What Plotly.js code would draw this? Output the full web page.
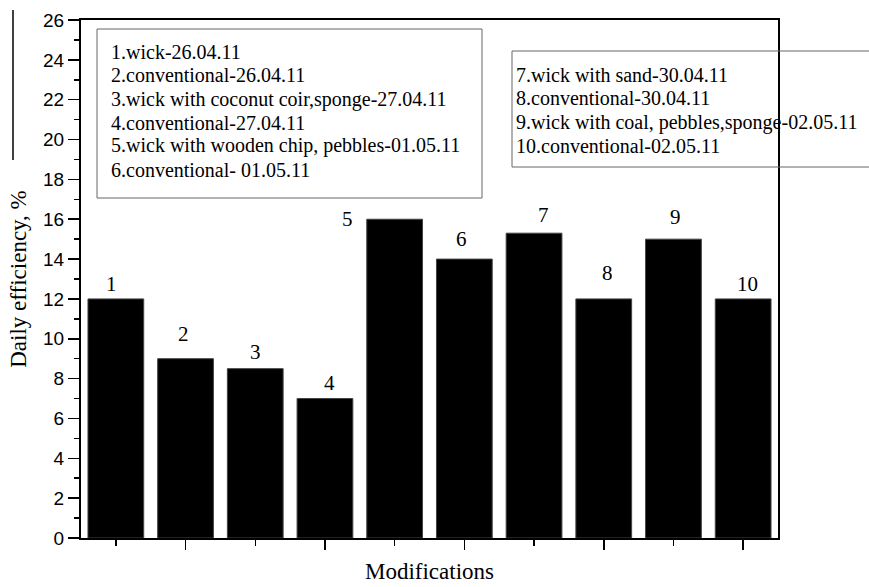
<!DOCTYPE html>
<html><head><meta charset="utf-8">
<script src="https://cdn.plot.ly/plotly-3.0.1.min.js"></script>
<style>html,body{margin:0;padding:0;background:#fff}#chart{width:869px;height:587px}</style>
</head><body><div id="chart"></div>
<script>
// ---- data ----
const modifications = [1, 2, 3, 4, 5, 6, 7, 8, 9, 10];
const barLabels = ['1', '2', '3', '4', '5', '6', '7', '8', '9', '10'];
const efficiency = [12, 9, 8.5, 7, 16, 14, 15.3, 12, 15, 12];
const legendLeft = [
  '1.wick-26.04.11',
  '2.conventional-26.04.11',
  '3.wick with coconut coir,sponge-27.04.11',
  '4.conventional-27.04.11',
  '5.wick with wooden chip, pebbles-01.05.11',
  '6.conventional- 01.05.11'
];
const legendRight = [
  '7.wick with sand-30.04.11',
  '8.conventional-30.04.11',
  '9.wick with coal, pebbles,sponge-02.05.11',
  '10.conventional-02.05.11'
];

// ---- layout helpers ----
const W = 869, H = 587, L = 81, R = 91, T = 20, B = 49;
const pw = W - L - R, ph = H - T - B;
const px = x => (x - L) / pw;
const py = y => (H - B - y) / ph;

// label offsets (pixels) relative to bar top centre
const labelDx = [-4, -2, 0, 5, -47, -3, 9, 4, 2, 4];
const labelDy = [15, 25, 17, 16, 0, 20, 18, 26, 22, 15];

const serif = 'Liberation Serif';
const sans = 'Liberation Sans';

const annotations = [];
modifications.forEach((m, i) => {
  annotations.push({
    x: m, y: efficiency[i], xref: 'x', yref: 'y',
    text: barLabels[i], showarrow: false,
    xanchor: 'center', yanchor: 'middle',
    xshift: labelDx[i], yshift: labelDy[i],
    font: {family: serif, size: 21, color: '#000'}
  });
});
const lineGap = 23.5;
legendLeft.forEach((t, i) => {
  annotations.push({
    x: px(109), y: py(52 + i * lineGap), xref: 'paper', yref: 'paper',
    text: t, showarrow: false, xanchor: 'left', yanchor: 'middle',
    font: {family: serif, size: 20, color: '#000'}
  });
});
legendRight.forEach((t, i) => {
  annotations.push({
    x: px(514), y: py(75 + i * lineGap), xref: 'paper', yref: 'paper',
    text: t, showarrow: false, xanchor: 'left', yanchor: 'middle',
    font: {family: serif, size: 20, color: '#000'}
  });
});

const shapes = [
  {type: 'rect', xref: 'paper', yref: 'paper', x0: px(97), x1: px(482), y0: py(198), y1: py(29),
   line: {color: '#666', width: 1}, fillcolor: 'rgba(0,0,0,0)', layer: 'above'},
  {type: 'rect', xref: 'paper', yref: 'paper', x0: px(512), x1: px(900), y0: py(167), y1: py(51),
   line: {color: '#666', width: 1}, fillcolor: 'rgba(0,0,0,0)', layer: 'above'},
  {type: 'line', xref: 'paper', yref: 'paper', x0: px(13), x1: px(13), y0: py(10), y1: py(160),
   line: {color: '#000', width: 1.5}}
];

const trace = {
  type: 'bar', x: modifications, y: efficiency, width: 0.8,
  marker: {color: '#000', line: {color: '#444', width: 1}},
  hoverinfo: 'x+y'
};

const layout = {
  width: W, height: H,
  margin: {l: L, r: R, t: T, b: B, pad: 0},
  paper_bgcolor: '#fff', plot_bgcolor: '#fff',
  showlegend: false, bargap: 0.2,
  xaxis: {
    range: [0.5, 10.5], showgrid: false, zeroline: false,
    showline: true, linecolor: '#000', linewidth: 2, mirror: true,
    ticks: 'outside', tickvals: [2, 4, 6, 8, 10], ticklen: 10, tickwidth: 1.5, tickcolor: '#000',
    minor: {tickvals: [1, 3, 5, 7, 9], ticks: 'outside', ticklen: 6, tickwidth: 1.5, tickcolor: '#000'},
    showticklabels: false,
    title: {text: 'Modifications', font: {family: serif, size: 23, color: '#000'}, standoff: 14}
  },
  yaxis: {
    range: [0, 26], showgrid: false, zeroline: false,
    showline: true, linecolor: '#000', linewidth: 2, mirror: true,
    ticks: 'outside', dtick: 2, tick0: 0, ticklen: 11, tickwidth: 1.5, tickcolor: '#000',
    minor: {dtick: 1, ticks: 'outside', ticklen: 5, tickwidth: 1.5, tickcolor: '#000'},
    tickfont: {family: sans, size: 19, color: '#000'},
    title: {text: 'Daily efficiency, %', font: {family: serif, size: 23, color: '#000'}, standoff: 10}
  },
  annotations: annotations,
  shapes: shapes
};

Plotly.newPlot('chart', [trace], layout, {displayModeBar: false, staticPlot: true});
</script>
</body></html>
